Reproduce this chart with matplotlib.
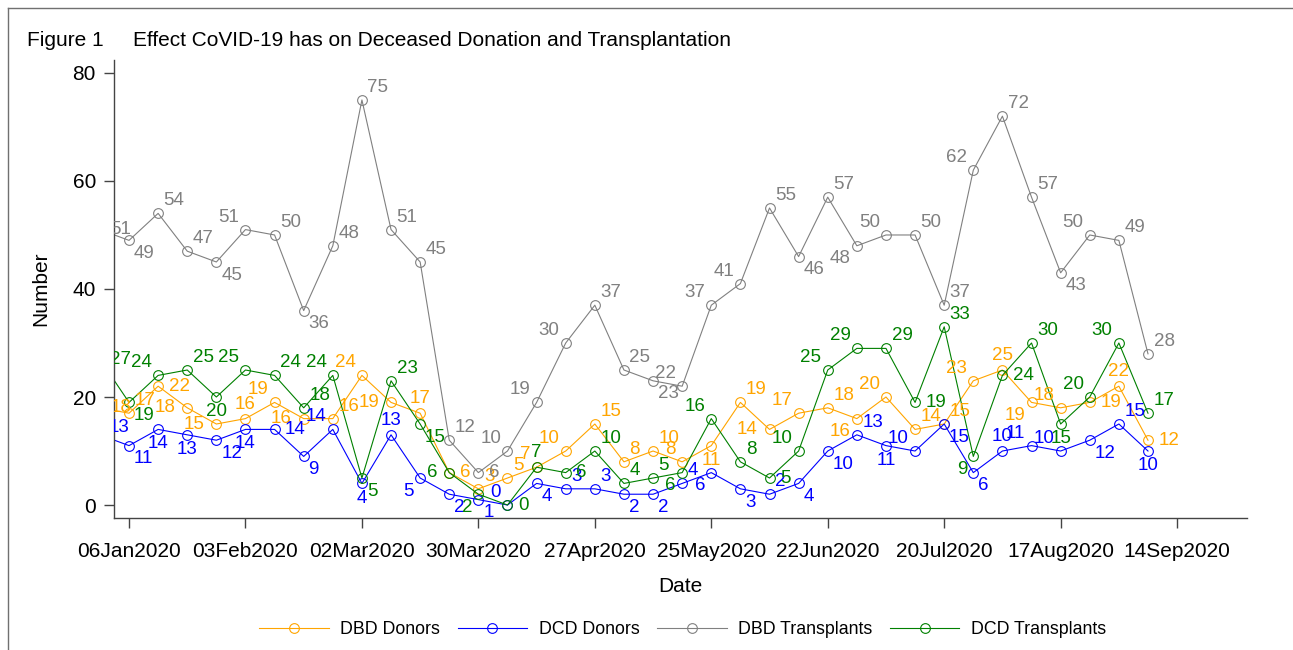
import matplotlib
matplotlib.use("Agg")
import matplotlib.pyplot as plt
import matplotlib.dates as mdates
from matplotlib.lines import Line2D
import pandas as pd

plt.rcParams['font.family'] = ['Liberation Sans', 'DejaVu Sans']

# weekly counts, week starting 30Dec2019
weeks = pd.date_range("2019-12-30", periods=37, freq="7D")
tick_dates = pd.date_range("2020-01-06", "2020-09-14", freq="28D")

dbd_donors = [18, 17, 22, 18, 15, 16, 19, 16, 16, 24, 19, 17, 6, 3, 5, 7, 10, 15, 8, 10,
              8, 11, 19, 14, 17, 18, 16, 20, 14, 15, 23, 25, 19, 18, 19, 22, 12]
dcd_donors = [13, 11, 14, 13, 12, 14, 14, 9, 14, 4, 13, 5, 2, 1, 0, 4, 3, 3, 2, 2,
              4, 6, 3, 2, 4, 10, 13, 11, 10, 15, 6, 10, 11, 10, 12, 15, 10]
dbd_transplants = [51, 49, 54, 47, 45, 51, 50, 36, 48, 75, 51, 45, 12, 6, 10, 19, 30, 37, 25, 23,
                   22, 37, 41, 55, 46, 57, 48, 50, 50, 37, 62, 72, 57, 43, 50, 49, 28]
dcd_transplants = [27, 19, 24, 25, 20, 25, 24, 18, 24, 5, 23, 15, 6, 2, 0, 7, 6, 10, 4, 5,
                   6, 16, 8, 5, 10, 25, 29, 29, 19, 33, 9, 24, 30, 15, 20, 30, 17]

# marker label clock positions (as in the original)
pos_dbd_donors = [3, 1, 3, 9, 9, 12, 11, 9, 1, 11, 9, 12, 3, 1, 1, 11, 11, 1, 1, 1,
                  11, 6, 1, 9, 11, 1, 7, 11, 1, 1, 11, 12, 7, 11, 3, 12, 3]
pos_dcd_donors = [2, 5, 6, 6, 5, 6, 3, 5, 11, 6, 12, 7, 5, 5, 11, 5, 1, 1, 5, 5,
                  1, 7, 5, 1, 5, 5, 1, 6, 11, 5, 5, 12, 11, 11, 5, 1, 6]
pos_dbd_tx = [3, 5, 1, 1, 5, 11, 1, 5, 1, 1, 1, 1, 1, 3, 11, 11, 11, 1, 1, 5,
              11, 11, 11, 1, 5, 1, 7, 11, 1, 1, 11, 1, 1, 5, 11, 1, 1]
pos_dcd_tx = [3, 5, 11, 1, 6, 11, 1, 1, 11, 5, 1, 5, 9, 7, 3, 12, 3, 1, 1, 1,
              7, 11, 1, 3, 11, 11, 11, 1, 3, 1, 7, 3, 1, 6, 11, 11, 1]

clock = {1: (4, 9, 'left'), 2: (6, 5, 'left'), 3: (7.5, 0, 'left'),
         5: (3.5, -9.5, 'left'), 6: (0, -10.5, 'center'), 7: (-4.5, -9.5, 'right'),
         9: (-8.5, 0, 'right'), 11: (-4.5, 9, 'right'), 12: (0, 10.5, 'center')}

series = [
    ("DBD Donors", dbd_donors, pos_dbd_donors, "#FFA500"),
    ("DCD Donors", dcd_donors, pos_dcd_donors, "#0000FF"),
    ("DBD Transplants", dbd_transplants, pos_dbd_tx, "#808080"),
    ("DCD Transplants", dcd_transplants, pos_dcd_tx, "#008000"),
]

fig = plt.figure(figsize=(12.93, 6.5), dpi=100)
ax = fig.add_axes([0.0882, 0.2031, 0.9644 - 0.0882, 0.9077 - 0.2031])

for name, vals, pos, col in series:
    ax.plot(weeks, vals, color=col, lw=0.8, marker='o', ms=7, mfc='none',
            mec=col, mew=0.8, label=name)
    for d, v, p in zip(weeks, vals, pos):
        dx, dy, ha = clock[p]
        ax.annotate(str(v), (d, v), xytext=(dx, dy), textcoords='offset points',
                    ha=ha, va='center', fontsize=13.5, color=col,
                    clip_on=True, annotation_clip=False)

x0 = mdates.date2num(pd.Timestamp("2020-01-06"))
ax.set_xlim(x0 - 3.6, x0 + 268.8)
ax.set_ylim(-2.4, 82.4)
ax.set_yticks([0, 20, 40, 60, 80])
ax.set_xticks(tick_dates)
ax.xaxis.set_major_formatter(mdates.DateFormatter("%d%b%Y"))
ax.tick_params(axis='x', length=7, width=1, color='#444444', pad=10, labelsize=15)
ax.tick_params(axis='y', length=7, width=1, color='#444444', pad=6, labelsize=15)
for s in ['top', 'right']:
    ax.spines[s].set_visible(False)
for s in ['left', 'bottom']:
    ax.spines[s].set_color('#444444')
    ax.spines[s].set_linewidth(1)

ax.set_xlabel("Date", fontsize=15, labelpad=12)
ax.set_ylabel("Number", fontsize=15, labelpad=16)

fig.text(27 / 1293, 1 - 40 / 650, "Figure 1", fontsize=15, va='center')
fig.text(133 / 1293, 1 - 40 / 650, "Effect CoVID-19 has on Deceased Donation and Transplantation",
         fontsize=15, va='center')

fig.legend(loc='center', bbox_to_anchor=(0.528, 1 - 630 / 650), ncol=4, frameon=False,
           fontsize=12.8, handlelength=3.9, columnspacing=1.0, handletextpad=0.65,
           numpoints=1)

# outer graph frame
fig.add_artist(Line2D([8 / 1293, 8 / 1293], [0, 1 - 8 / 650], color='#707070', lw=1))
fig.add_artist(Line2D([8 / 1293, 1], [1 - 8 / 650, 1 - 8 / 650], color='#707070', lw=1))

fig.savefig("out.png", dpi=100)
